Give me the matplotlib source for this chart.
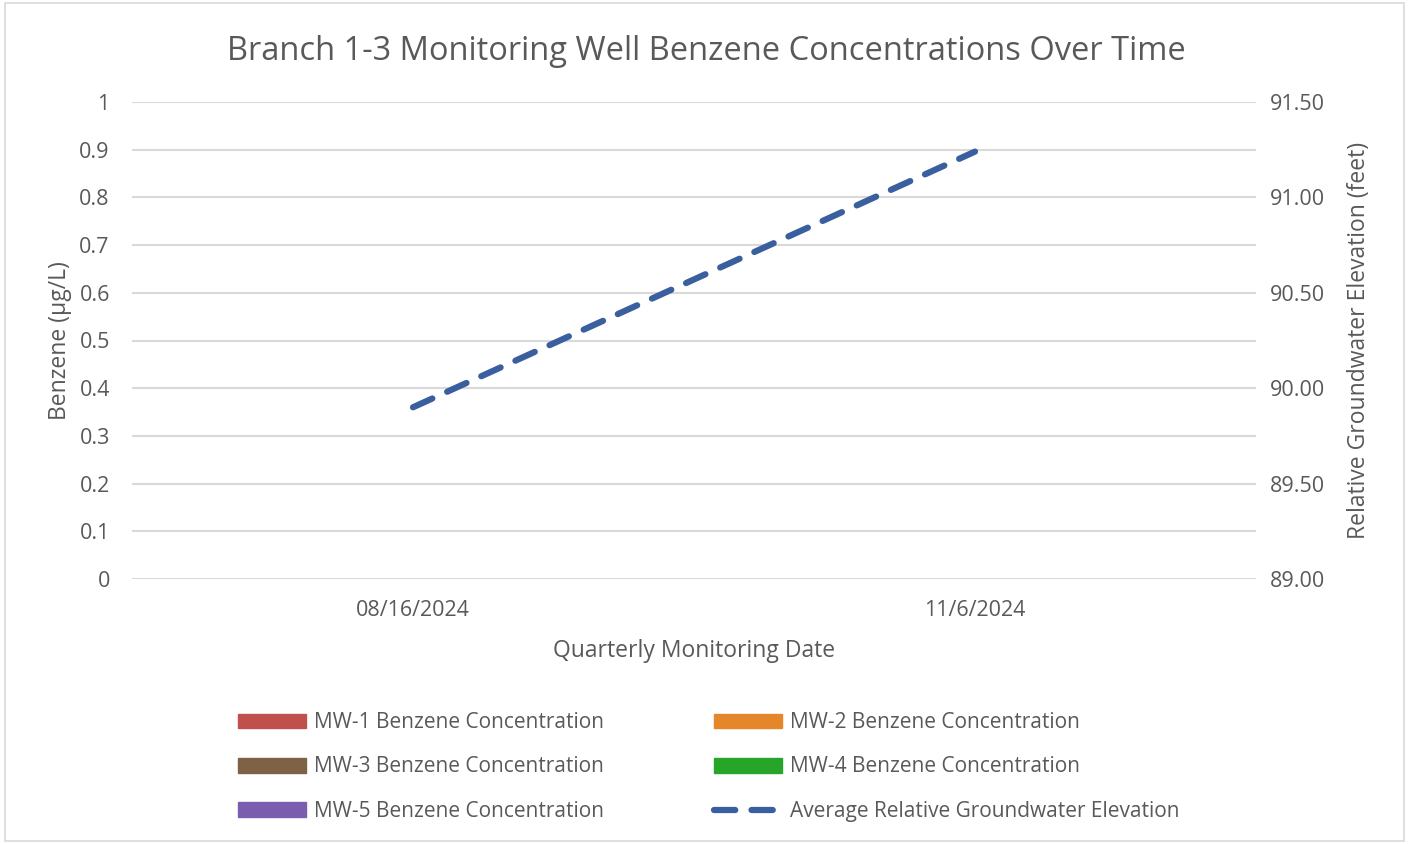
import matplotlib
matplotlib.use("Agg")
import matplotlib.pyplot as plt
from matplotlib.patches import Patch, Rectangle
from matplotlib.lines import Line2D
import numpy as np

plt.rcParams['font.family'] = ['Open Sans', 'DejaVu Sans']

dates = ["08/16/2024", "11/6/2024"]
mw_names = ["MW-1 Benzene Concentration", "MW-2 Benzene Concentration",
            "MW-3 Benzene Concentration", "MW-4 Benzene Concentration",
            "MW-5 Benzene Concentration"]
mw1 = [0, 0]
mw2 = [0, 0]
mw3 = [0, 0]
mw4 = [0, 0]
mw5 = [0, 0]
mw_colors = ["#c0504d", "#e6862a", "#7f6145", "#27a52a", "#7b5daf"]
elev_name = "Average Relative Groundwater Elevation"
elevation = [89.90, 91.24]
left_ticks = [0, 0.1, 0.2, 0.3, 0.4, 0.5, 0.6, 0.7, 0.8, 0.9, 1]
right_ticks = [89.00, 89.50, 90.00, 90.50, 91.00, 91.50]

txt = "#595959"
grid = "#d9d9d9"
line_c = "#3a5f9e"

fig = plt.figure(figsize=(14.09, 8.44), dpi=100)
fig.patches.append(Rectangle((0.0035, 0.003), 0.993, 0.994, transform=fig.transFigure,
                             fill=False, edgecolor="#d9d9d9", linewidth=1.2))
ax = fig.add_axes([132/1409, 1-579/844, (1256-132)/1409, (579-102)/844])
x = np.arange(len(dates))
series = [mw1, mw2, mw3, mw4, mw5]
w = 0.12
for i, (s, c) in enumerate(zip(series, mw_colors)):
    ax.bar(x + (i-2)*w, s, width=w, color=c, linewidth=0)
ax.set_ylim(0, 1)
ax.set_xlim(-0.5, 1.5)
ax.set_yticks(left_ticks)
ax.set_yticklabels([f"{t:g}" for t in left_ticks])
ax.set_xticks(x)
ax.set_xticklabels(dates)
ax.grid(axis='y', color=grid, linewidth=1.5)
ax.set_axisbelow(True)
for sp in ax.spines.values():
    sp.set_visible(False)
ax.tick_params(length=0, labelsize=15.5, labelcolor=txt)
ax.tick_params(axis='y', pad=16)
ax.tick_params(axis='x', pad=15)
ax.set_ylabel("Benzene (µg/L)", fontsize=16.5, color=txt, labelpad=5)
ax.set_xlabel("Quarterly Monitoring Date", fontsize=16.5, color=txt, labelpad=13)

ax2 = ax.twinx()
ax2.plot(x, elevation, color=line_c, linewidth=4.5, dashes=(3.4, 2.6), dash_capstyle='round')
ax2.set_ylim(89, 91.5)
ax2.set_yticks(right_ticks)
ax2.set_yticklabels([f"{t:.2f}" for t in right_ticks])
for sp in ax2.spines.values():
    sp.set_visible(False)
ax2.tick_params(length=0, labelsize=15.5, labelcolor=txt, pad=10)
ax2.set_ylabel("Relative Groundwater Elevation (feet)", fontsize=16.5, color=txt, labelpad=16)

fig.suptitle("Branch 1-3 Monitoring Well Benzene Concentrations Over Time",
             x=(227+1185)/2/1409, y=1-51/844, va='center', fontsize=23.5, color=txt)

handles = [Patch(color=c) for c in mw_colors] + \
          [Line2D([], [], color=line_c, linewidth=4.5, dashes=(3.4, 2.6), dash_capstyle='round')]
labels = mw_names + [elev_name]
order = [0, 2, 4, 1, 3, 5]
leg = fig.legend([handles[i] for i in order], [labels[i] for i in order],
                 ncol=2, loc='center left', bbox_to_anchor=(219/1409, 1-767/844),
                 frameon=False, fontsize=15, labelcolor=txt, handlelength=3.27,
                 handleheight=0.7, handletextpad=0.38, columnspacing=5.3, labelspacing=1.12)

fig.savefig("out.png", dpi=100)
